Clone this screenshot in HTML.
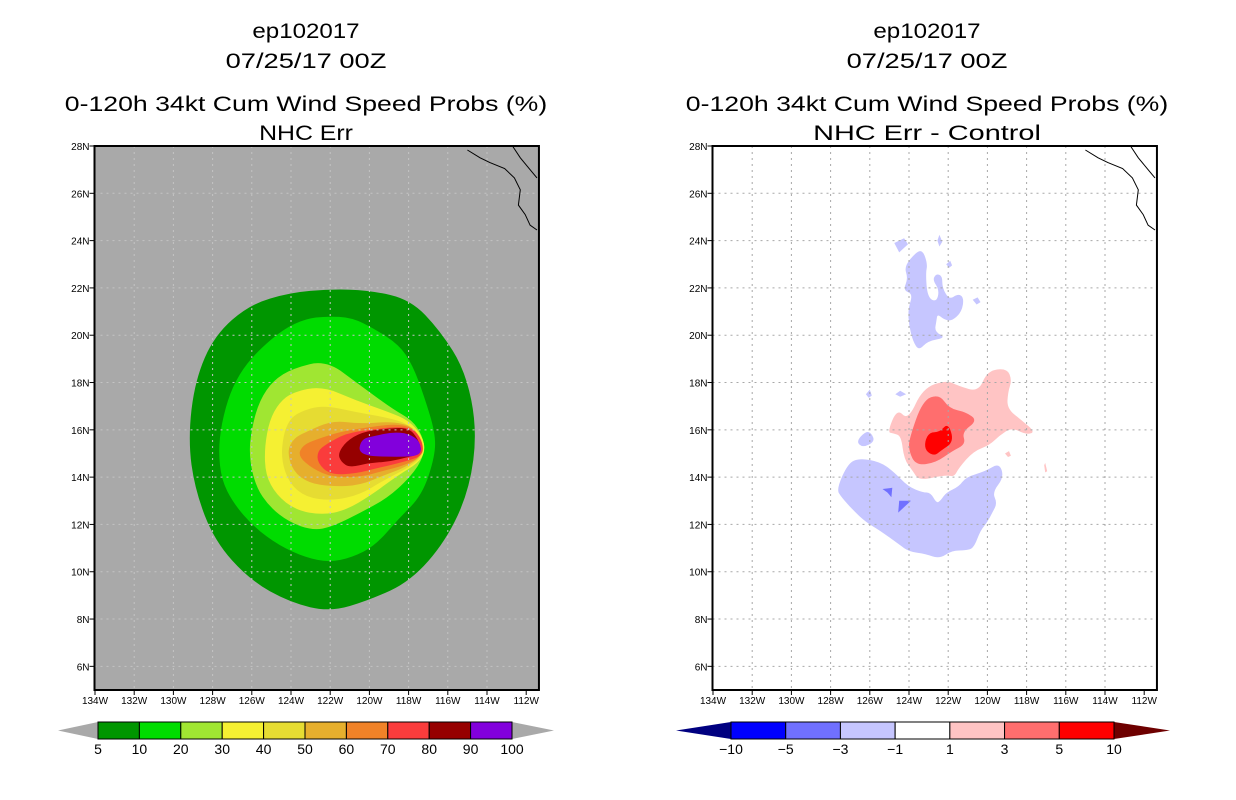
<!DOCTYPE html>
<html><head><meta charset="utf-8"><style>
html,body{margin:0;padding:0;background:#fff;}
svg{display:block;font-family:"Liberation Sans",sans-serif;}
</style></head><body>
<svg id="chart" width="1236" height="800" viewBox="0 0 1236 800">
<g id="left"></g>
<g id="right"></g>
</svg>
<script>
// ---- data ----
const lonTicks = [134,132,130,128,126,124,122,120,118,116,114,112];
const latTicks = [28,26,24,22,20,18,16,14,12,10,8,6];
const probLevels = ["5","10","20","30","40","50","60","70","80","90","100"];
const probColors = ["#009600","#00dc00","#a0e632","#f5f032","#e6dc32","#e6af2d","#f08228","#fa3c3c","#960000","#8200dc"];
const diffLevels = ["\u221210","\u22125","\u22123","\u22121","1","3","5","10"];
const diffColors = ["#0000ff","#7070ff","#c6c6ff","#ffffff","#ffc4c4","#ff6e6e","#ff0000"];
// contour polygons [lonW, latN]
const prob5 = [[122,21.95],[119.97,21.9],[117.9,21.5],[116.4,20.2],[115.1,18.5],[114.5,16],[114.9,13.45],[116.1,11.3],[117.9,9.6],[120,8.8],[122,8.3],[124.05,8.7],[126.1,9.65],[127.9,11.3],[128.9,13.45],[129.25,15.6],[128.9,18.1],[127.9,20],[126.1,21.3],[124.05,21.8]];
const prob10 = [[122.2,20.8],[120.9,20.75],[119.7,20.25],[118.5,19.6],[117.8,18.75],[117.2,17.4],[116.65,15.9],[116.65,14.9],[117.3,13.25],[118.5,12.25],[119.7,11.1],[120.9,10.6],[122.05,10.4],[123.25,10.6],[124.6,11.1],[125.9,11.9],[126.95,12.9],[127.55,13.9],[127.7,15.1],[127.55,16.25],[127.1,17.6],[126.45,18.6],[125.6,19.4],[124.4,20.25],[123.25,20.7]];
const prob20 = [[123.9,18.6],[122.2,18.95],[120.5,17.9],[118.85,16.9],[117.8,16.4],[117.3,15.75],[117.15,15.1],[117.65,14.25],[118.85,13.25],[120.2,12.6],[121.9,11.9],[122.9,11.75],[124.1,12.1],[125.1,12.75],[125.8,13.6],[126.15,14.9],[126,16.1],[125.6,17.25],[124.9,18.1]];
const prob30 = [[123.9,17.6],[122.4,17.85],[120.7,17.25],[119,16.75],[118,16.4],[117.3,15.75],[117.15,15.1],[117.5,14.6],[118.5,14.1],[119.9,13.25],[121.2,12.6],[122.4,12.4],[123.75,12.6],[124.75,13.25],[125.3,14.1],[125.35,15.25],[125.1,16.4],[124.6,17.15]];
const prob40 = [[123.6,16.75],[122.4,17.05],[120.7,16.75],[119,16.5],[118,16.25],[117.3,15.6],[117.25,14.9],[118,14.4],[119.2,13.9],[120.5,13.25],[121.9,13],[123.25,13.15],[124.1,13.75],[124.5,14.75],[124.4,15.75],[124.1,16.4]];
const prob50 = [[123.25,15.9],[121.9,16.4],[120.5,16.25],[118.85,16.35],[117.8,16.15],[117.3,15.5],[117.3,14.9],[118.2,14.4],[119.2,14.1],[120.5,13.65],[121.9,13.6],[123.1,13.75],[123.9,14.25],[124.2,15.1],[123.85,15.65]];
const prob60 = [[122.7,15.6],[121.55,15.9],[120.2,16.1],[118.7,16.25],[117.75,16.1],[117.3,15.5],[117.3,14.9],[118.2,14.5],[119.35,14.25],[120.5,14],[121.9,14],[122.9,14.35],[123.65,14.9],[123.4,15.35]];
const prob70 = [[122.2,15.4],[121.2,15.85],[120,16],[118.5,16.15],[117.65,16],[117.25,15.4],[117.3,14.9],[118.2,14.65],[119.5,14.4],[120.7,14.15],[122,14.1],[122.65,14.6],[122.65,15.1]];
const prob80 = [[121.6,15],[121.2,15.5],[120.4,15.9],[119.2,16.05],[118,16.1],[117.5,15.6],[117.3,15],[118,14.85],[119,14.65],[120,14.6],[121,14.4],[121.45,14.65]];
const prob90 = [[120.55,14.9],[120.45,15.6],[119.7,15.75],[118.85,15.9],[118,15.85],[117.4,15.5],[117.35,14.9],[118.5,14.85]];
const diffNeg3a = [[127.7,13.5],[127.1,14.6],[126.5,14.8],[125.5,14.65],[124.8,14.25],[124.05,13.6],[123.3,13.35],[122.9,13.35],[122.6,12.9],[122.4,13],[122.1,13.35],[121.45,13.6],[121.1,14],[120.1,14.25],[119.4,14.6],[119.15,14],[119.75,13.35],[119.5,12.9],[119.75,12.5],[120,12.1],[120.35,11.75],[120.7,11],[121.1,10.9],[121.8,10.9],[122.45,10.55],[123.15,10.75],[124,10.85],[124.5,11.15],[125.5,11.75],[126.2,12.1],[126.85,12.6],[127.45,13.15]];
const diffNeg3b = [[124.25,22.9],[123.65,23.5],[123.3,23.6],[123.05,23],[123.15,22.6],[123.05,21.6],[122.6,21.4],[122.45,21.9],[122.8,22.35],[122.6,22.6],[122.3,22.5],[122.3,22],[121.95,21.5],[121.5,21.75],[121.2,21.6],[121.3,21],[121.8,20.6],[122.2,20.65],[122.55,20.9],[122.6,20.6],[122.7,20.15],[122.1,19.9],[123.05,19.75],[123.5,19.35],[123.8,19.75],[124,20.4],[124.05,21.1],[123.8,21.75],[124.3,21.9],[124.05,22.4]];
const diffNeg3c = [[124.75,23.9],[124.25,24.1],[124.05,23.85],[124.5,23.5]];
const diffNeg3d = [[122.55,24],[122.45,24.25],[122.3,23.95],[122.45,23.75]];
const diffNeg3e = [[122.1,23],[121.9,23.15],[121.8,22.95],[121.95,22.85]];
const diffNeg3f = [[120.75,21.5],[120.5,21.6],[120.35,21.4],[120.55,21.3]];
const diffNeg3g = [[126.7,15.5],[126.2,15.95],[125.9,15.85],[125.75,15.5],[126.35,15.25]];
const diffNeg3h = [[126.2,17.5],[126,17.7],[125.9,17.45],[126.05,17.35]];
const diffNeg3i = [[124.7,17.5],[124.45,17.65],[124.15,17.5],[124.45,17.4]];
const diffNeg5a = [[125.35,13.5],[124.85,13.55],[124.9,13.15],[125.1,13.35]];
const diffNeg5b = [[124.5,13],[123.9,13],[124.55,12.5]];
const diffPos1a = [[125.1,15.9],[124.6,16.9],[124.05,16.4],[123.3,17.75],[122.1,18.1],[121.45,17.85],[120.45,17.6],[120,18.5],[119,18.6],[118.75,18.1],[118.95,17.6],[119,16.9],[118.25,16.4],[117.55,15.9],[118.05,15.8],[118.75,16.1],[119.4,15.75],[119.9,15.35],[120.7,15.1],[121.45,14.4],[121.7,14],[122.1,14.1],[123.5,13.85],[123.8,14.25],[124.25,14.75],[124.4,15.75],[124.8,15.85]];
const diffPos1b = [[119.1,15],[118.9,15.1],[118.8,14.9],[118.95,14.85]];
const diffPos1c = [[117.05,14.6],[116.95,14.25],[117.05,14.2],[117.1,14.5]];
const diffPos3 = [[124,15.6],[123.3,17.25],[122.45,17.5],[121.95,16.9],[121.1,16.75],[120.5,16.4],[121.3,15.9],[121.1,15.4],[121.8,15.1],[122.65,14.6],[123.65,14.5],[124,15.1]];
const diffPos5 = [[123.2,15.5],[122.95,15.9],[122.45,15.9],[122,16.3],[121.7,15.5],[122.4,15.1],[122.7,14.9],[123.15,15.1]];
const coastA = [[115,27.83],[114.35,27.5],[113.85,27.3],[113.1,27.05],[112.6,26.65],[112.3,26.15],[112.4,25.5],[112.05,25.1],[111.8,24.65],[111.45,24.45]];
const coastB = [[112.7,28],[112.3,27.5],[111.8,27],[111.45,26.65]];

const NS="http://www.w3.org/2000/svg";
function el(tag, attrs, parent){const e=document.createElementNS(NS,tag);for(const k in attrs)e.setAttribute(k,attrs[k]);parent.appendChild(e);return e;}
const LON0=134, LON1=111.35, LAT0=5, LAT1=28, PY0=146, PY1=690, DX=19.6;
function mkX(x0){return lon=>x0+(LON0-lon)*DX;}
function yS(lat){return PY1-(lat-LAT0)*(PY1-PY0)/(LAT1-LAT0);}
function pts(poly,xs){return poly.map(p=>xs(p[0]).toFixed(1)+","+yS(p[1]).toFixed(1)).join(" ");}
function smoothPath(poly,xs){
  const P=poly.map(p=>[xs(p[0]),yS(p[1])]);const n=P.length;
  if(n<5) return "M"+P.map(p=>p[0].toFixed(1)+","+p[1].toFixed(1)).join(" L")+"Z";
  const mid=(a,b)=>[(a[0]+b[0])/2,(a[1]+b[1])/2];
  let m=mid(P[n-1],P[0]);let d="M"+m[0].toFixed(1)+","+m[1].toFixed(1);
  for(let i=0;i<n;i++){const c=P[i],m2=mid(P[i],P[(i+1)%n]);d+=" Q"+c[0].toFixed(1)+","+c[1].toFixed(1)+" "+m2[0].toFixed(1)+","+m2[1].toFixed(1);}
  return d+"Z";
}

function panel(g, x0, bg, layers, titles, cx){
  const xs=mkX(x0);
  const fx0=xs(LON0)-0.5, fx1=xs(LON1);
  const r=el("rect",{x:fx0,y:PY0,width:fx1-fx0,height:PY1-PY0,fill:bg},g);
  
  
  layers.forEach(L=>{
    const p=el("path",{d:smoothPath(L.poly,xs),fill:L.color},g);
    
    
  });
  const grid=el("g",{stroke:bg==="#ffffff"?"#a8a8a8":"#c4c4c4","stroke-width":1,"stroke-dasharray":"2,4"},g);
  
  
  lonTicks.slice(1,-1).forEach(l=>el("line",{x1:xs(l),x2:xs(l),y1:PY0,y2:PY1},grid));
  latTicks.slice(1).forEach(l=>el("line",{x1:fx0,x2:fx1,y1:yS(l),y2:yS(l)},grid));
  [coastA,coastB].forEach(c=>{
    const pl=el("polyline",{points:pts(c,xs),fill:"none",stroke:"#000","stroke-width":1},g);
    
    
  });
  const fr=el("rect",{x:fx0,y:PY0,width:fx1-fx0,height:PY1-PY0,fill:"none",stroke:"#000","stroke-width":2},g);
  
  
  lonTicks.forEach(l=>{
    el("line",{x1:xs(l),x2:xs(l),y1:PY1,y2:PY1+5,stroke:"#000"},g);
    const t=el("text",{x:xs(l),y:PY1+14,"font-size":10,"text-anchor":"middle"},g);
    t.textContent=l+"W";
    
    
  });
  latTicks.forEach(l=>{
    el("line",{x1:fx0-5,x2:fx0,y1:yS(l),y2:yS(l),stroke:"#000"},g);
    const t=el("text",{x:fx0-5,y:yS(l)+4,"font-size":10,"text-anchor":"end"},g);
    t.textContent=l+"N";
    
    
  });
  const ty=[38,68,111,140];
  titles.forEach((s,i)=>{
    const t=el("text",{x:cx,y:ty[i],"font-size":21,"text-anchor":"middle",textLength:s.length*13.4,lengthAdjust:"spacingAndGlyphs"},g);
    t.textContent=s;
    
    
  });
}

function colorbar(g, bx0, bx1, tl, tr, colors, labels, triL, triR){
  const y0=722,y1=739,n=colors.length,w=(bx1-bx0)/n,ym=(y0+y1)/2;
  const a=el("polygon",{points:`${tl},${ym} ${bx0},${y0} ${bx0},${y1}`,fill:triL},g);
  
  
  const b=el("polygon",{points:`${tr},${ym} ${bx1},${y0} ${bx1},${y1}`,fill:triR},g);
  
  
  colors.forEach((c,i)=>{
    const r=el("rect",{x:bx0+i*w,y:y0,width:w,height:y1-y0,fill:c,stroke:"#000","stroke-width":1},g);
    
    
  });
  labels.forEach((s,i)=>{
    const t=el("text",{x:bx0+i*w,y:754,"font-size":14,"text-anchor":"middle"},g);
    t.textContent=s;
    
    
  });
}

const P=probColors;
panel(document.getElementById("left"),95,"#a9a9a9",[
 {poly:prob5,color:P[0],name:"prob-5"},{poly:prob10,color:P[1],name:"prob-10"},{poly:prob20,color:P[2],name:"prob-20"},
 {poly:prob30,color:P[3],name:"prob-30"},{poly:prob40,color:P[4],name:"prob-40"},{poly:prob50,color:P[5],name:"prob-50"},
 {poly:prob60,color:P[6],name:"prob-60"},{poly:prob70,color:P[7],name:"prob-70"},{poly:prob80,color:P[8],name:"prob-80"},
 {poly:prob90,color:P[9],name:"prob-90"}],
 ["ep102017","07/25/17 00Z","0-120h 34kt Cum Wind Speed Probs (%)","NHC Err"],306);
const D=diffColors;
panel(document.getElementById("right"),713,"#ffffff",[
 {poly:diffNeg3a,color:D[2],name:"diff-neg3-south"},{poly:diffNeg3b,color:D[2],name:"diff-neg3-north"},
 {poly:diffNeg3c,color:D[2],name:"diff-neg3-blob"},{poly:diffNeg3d,color:D[2],name:"diff-neg3-blob"},
 {poly:diffNeg3e,color:D[2],name:"diff-neg3-blob"},{poly:diffNeg3f,color:D[2],name:"diff-neg3-blob"},
 {poly:diffNeg3g,color:D[2],name:"diff-neg3-blob"},{poly:diffNeg3h,color:D[2],name:"diff-neg3-blob"},
 {poly:diffNeg3i,color:D[2],name:"diff-neg3-blob"},
 {poly:diffNeg5a,color:D[1],name:"diff-neg5-blob"},{poly:diffNeg5b,color:D[1],name:"diff-neg5-blob"},
 {poly:diffPos1a,color:D[4],name:"diff-pos1"},{poly:diffPos1b,color:D[4],name:"diff-pos1-blob"},{poly:diffPos1c,color:D[4],name:"diff-pos1-blob"},
 {poly:diffPos3,color:D[5],name:"diff-pos3"},{poly:diffPos5,color:D[6],name:"diff-pos5"}],
 ["ep102017","07/25/17 00Z","0-120h 34kt Cum Wind Speed Probs (%)","NHC Err - Control"],927);
colorbar(document.getElementById("left"),98,512,58,554,probColors,probLevels,"#a9a9a9","#a9a9a9");
colorbar(document.getElementById("right"),731,1114,676,1170,diffColors,diffLevels,"#000080","#6e0000");
</script>
</body></html>
